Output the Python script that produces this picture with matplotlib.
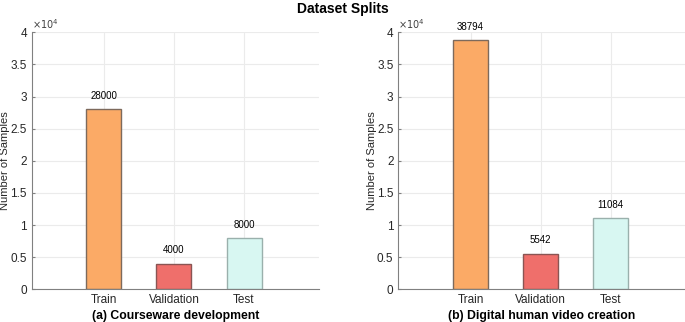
import numpy as np
import matplotlib.pyplot as plt

plt.rcParams["font.family"] = ["Liberation Sans", "DejaVu Sans"]

categories = ["Train", "Validation", "Test"]
courseware = [28000, 4000, 8000]
digital_human = [38794, 5542, 11084]
panel_titles = ["(a) Courseware development", "(b) Digital human video creation"]

fills = ["#FBAA66", "#EF6F6B", "#D8F7F2"]
edges = ["#7d6a5c", "#8a5553", "#9ab0ac"]

fig = plt.figure(figsize=(6.85, 3.22), dpi=100)
ax1 = fig.add_axes([0.0463, 0.1016, 0.4194, 0.798])
ax2 = fig.add_axes([0.5815, 0.1016, 0.4194, 0.798])

x = np.arange(1, len(categories) + 1)
for ax, vals, title in zip([ax1, ax2], [courseware, digital_human], panel_titles):
    ax.set_axisbelow(True)
    ax.grid(True, color="#ebebeb", linewidth=0.8)
    ax.bar(x, vals, width=0.5, color=fills, edgecolor=edges, linewidth=1.0)
    for xi, v in zip(x, vals):
        ax.text(xi, v + 1300, str(v), ha="center", va="bottom", fontsize=7)
    ax.set_xlim(-0.03, 4.07)
    ax.set_ylim(0, 40000)
    ax.set_xticks(x)
    ax.set_xticklabels(categories, fontsize=8.5, color="#262626")
    yt = np.arange(0, 40001, 5000)
    ax.set_yticks(yt)
    ax.set_yticklabels([f"{t / 1e4:g}" for t in yt], fontsize=8.5, color="#262626")
    ax.text(0.0, 1.005, r"$\times10^4$", transform=ax.transAxes, fontsize=7,
            color="#404040", ha="left", va="bottom")
    ax.tick_params(length=2.5, direction="in", color="#808080")
    for s in ["top", "right"]:
        ax.spines[s].set_visible(False)
    for s in ["left", "bottom"]:
        ax.spines[s].set_color("#808080")
    ax.set_ylabel("Number of Samples", fontsize=8, color="#262626")
    ax.yaxis.set_label_coords(-0.075, 0.5)
    ax.set_xlabel(title, fontsize=8.8, fontweight="bold", labelpad=3)

fig.suptitle("Dataset Splits", fontsize=10, fontweight="bold", y=0.995)

fig.savefig("out.png", dpi=100)
